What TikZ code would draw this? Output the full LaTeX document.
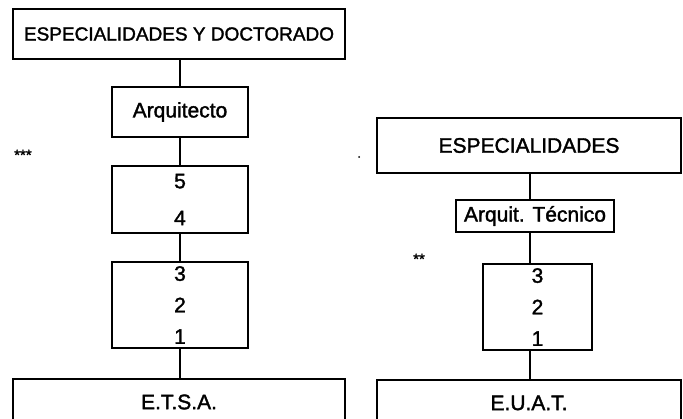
\documentclass[tikz,border=0pt]{standalone}
\usepackage{fontspec}
\setmainfont[FakeBold=1.6]{Liberation Sans}
\begin{document}
\begin{tikzpicture}[x=1pt,y=-1pt,
  box/.style={draw=black, line width=1.8pt, inner sep=0pt, outer sep=0pt, align=center,
    font=\fontsize{21}{25}\selectfont},
  wire/.style={draw=black, line width=1.8pt},
  stars/.style={inner sep=0pt, font=\fontsize{15}{15}\selectfont}]
\useasboundingbox (0,0) rectangle (683,419);
% left column
\node[box, minimum width=332pt, minimum height=50pt, font=\fontsize{19}{22}\selectfont] (esd) at (179,34) {ESPECIALIDADES Y DOCTORADO};
\node[box, minimum width=136pt, minimum height=50pt] (arq) at (180,112) {Arquitecto};
\node[box, minimum width=136pt, minimum height=67pt, font=\fontsize{21}{37}\selectfont] (l54) at (180,199.5) {5\\4};
\node[box, minimum width=136pt, minimum height=86pt, font=\fontsize{21}{31.5}\selectfont] (l321) at (180,305) {3\\2\\1};
\node[box, minimum width=332pt, minimum height=46pt] (etsa) at (179,402) {E.T.S.A.};
\draw[wire] (esd.south -| arq.north) -- (arq.north);
\draw[wire] (arq.south) -- (l54.north);
\draw[wire] (l54.south) -- (l321.north);
\draw[wire] (l321.south) -- (l321.south |- etsa.north);
\node[stars, anchor=west] (s3) at (14,155) {***};
% right column
\node[box, minimum width=304pt, minimum height=55pt] (esp) at (529,145.5) {ESPECIALIDADES};
\node[box, minimum width=158pt, minimum height=32pt] (arqt) at (535,216) {Arquit. Técnico};
\node[box, minimum width=109pt, minimum height=86pt, font=\fontsize{21}{31.5}\selectfont] (r321) at (537.5,307) {3\\2\\1};
\node[box, minimum width=304pt, minimum height=46pt] (euat) at (529,403) {E.U.A.T.};
\coordinate (sp) at (530,0);
\draw[wire] (sp |- esp.south) -- (sp |- arqt.north);
\draw[wire] (sp |- arqt.south) -- (sp |- r321.north);
\draw[wire] (sp |- r321.south) -- (sp |- euat.north);
\node[stars, anchor=west] (s2) at (413,259) {**};
\fill (359,157) circle (1pt);
\end{tikzpicture}
\end{document}
